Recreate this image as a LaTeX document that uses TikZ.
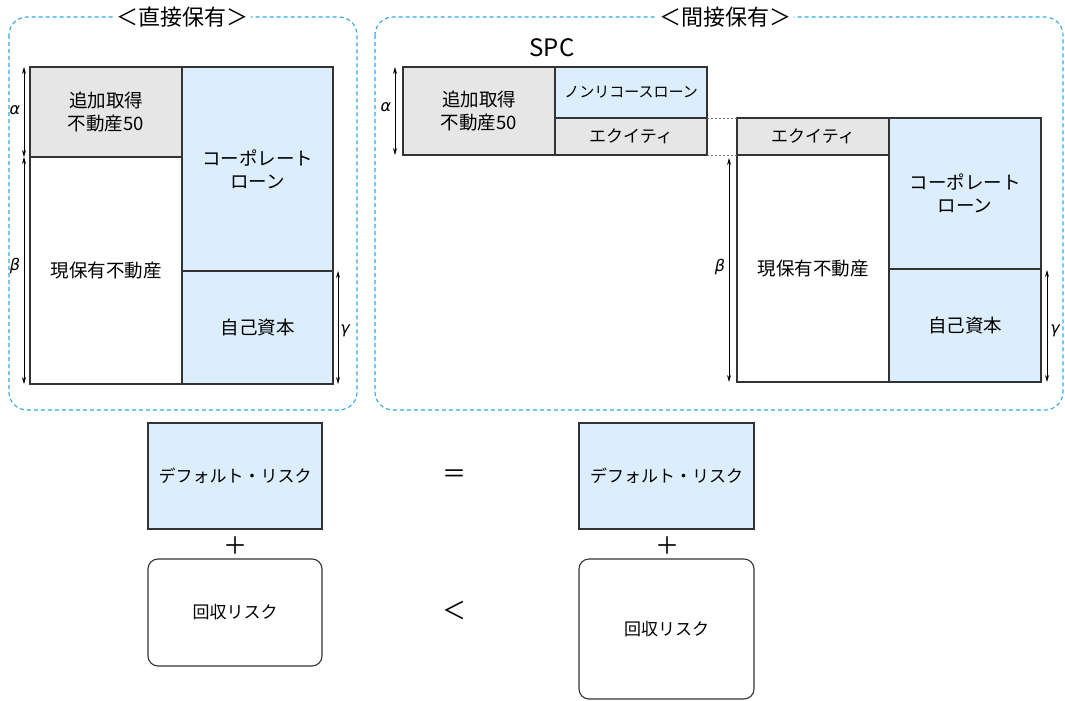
\documentclass[tikz,border=0pt]{standalone}
\usepackage{fontspec}
\setmainfont{Noto Sans CJK JP}
\newfontfamily\jp{Noto Sans CJK JP}
\newfontfamily\grk{DejaVu Sans}
\usetikzlibrary{arrows.meta}
\definecolor{bluefill}{HTML}{DCEDFB}
\definecolor{grayfill}{HTML}{E6E6E6}
\definecolor{linecol}{HTML}{333333}
\definecolor{framecol}{HTML}{2EA8E0}
\definecolor{dotcol}{HTML}{707070}
\tikzset{
  cell/.style={draw=linecol, line width=1.1pt, inner sep=0pt, outer sep=0pt, align=center, anchor=north west,
    font=\jp\fontsize{18.5}{23}\selectfont},
  bluecell/.style={cell, fill=bluefill},
  graycell/.style={cell, fill=grayfill},
  whitecell/.style={cell, fill=white},
  roundcell/.style={cell, fill=white, rounded corners=10pt},
  smalltext/.style={font=\jp\fontsize{15}{19}\selectfont},
  midtext/.style={font=\jp\fontsize{17}{21}\selectfont},
  frame/.style={draw=framecol, line width=1.1pt, dash pattern=on 4pt off 3pt, rounded corners=18pt},
  titletext/.style={fill=white, inner sep=3pt, font=\jp\fontsize{22}{26}\selectfont},
  dim/.style={draw=black, line width=0.7pt, {Stealth[length=7pt,width=4pt]}-{Stealth[length=7pt,width=4pt]}},
  greek/.style={font=\grk\itshape\fontsize{16}{20}\selectfont, inner sep=0pt},
  opsym/.style={font=\jp\fontsize{24}{28}\selectfont, inner sep=0pt},
  dotline/.style={draw=dotcol, line width=1pt, dash pattern=on 2pt off 2pt},
}
\begin{document}
\begin{tikzpicture}[x=1pt,y=-1pt]
\useasboundingbox (0,0) rectangle (1065,701);
% frames
\draw[frame] (9,17) rectangle (357,410);
\draw[frame] (375,17) rectangle (1063,410);
\node[titletext] (t1) at (182,17) {＜直接保有＞};
\node[titletext] (t2) at (725,17) {＜間接保有＞};
% left panel
\node[graycell, minimum width=152pt, minimum height=90pt] (L1) at (30,67) {追加取得\\不動産50};
\node[whitecell, minimum width=152pt, minimum height=227pt] (L2) at (30,157) {現保有不動産};
\node[bluecell, minimum width=151pt, minimum height=204pt] (L3) at (182,67) {コーポレート\\ローン};
\node[bluecell, minimum width=151pt, minimum height=113pt] (L4) at (182,271) {自己資本};
\coordinate (la1) at (24,67);
\coordinate (la2) at (24,157);
\coordinate (la3) at (24,384);
\coordinate (lg1) at (338,271);
\coordinate (lg2) at (338,384);
\draw[dim] (la1) -- (la2);
\draw[dim] (la2) -- (la3);
\draw[dim] (lg1) -- (lg2);
\node[greek] (lal) at (15,110) {α};
\node[greek] (lbe) at (15,266) {β};
\node[greek] (lga) at (345,331) {γ};
% SPC
\node[font=\jp\fontsize{24}{28}\selectfont, inner sep=0pt] (spc) at (552,48) {SPC};
\node[graycell, minimum width=152pt, minimum height=88pt] (S1) at (403,67) {追加取得\\不動産50};
\node[bluecell, smalltext, minimum width=152pt, minimum height=51pt] (S2) at (555,67) {ノンリコースローン};
\node[graycell, midtext, minimum width=152pt, minimum height=37pt] (S3) at (555,118) {エクイティ};
% right company
\node[graycell, midtext, minimum width=152pt, minimum height=37pt] (R1) at (737,118) {エクイティ};
\node[whitecell, minimum width=152pt, minimum height=227pt] (R2) at (737,155) {現保有不動産};
\node[bluecell, minimum width=152pt, minimum height=151pt] (R3) at (889,118) {コーポレート\\ローン};
\node[bluecell, minimum width=152pt, minimum height=113pt] (R4) at (889,269) {自己資本};
\draw[dotline] (S3.north east) -- (R1.north west);
\draw[dotline] (S3.south east) -- (R1.south west);
\coordinate (ra1) at (395,67);
\coordinate (ra2) at (395,155);
\coordinate (rb1) at (729,158);
\coordinate (rb2) at (729,382);
\coordinate (rg1) at (1047,270);
\coordinate (rg2) at (1047,382);
\draw[dim] (ra1) -- (ra2);
\draw[dim] (rb1) -- (rb2);
\draw[dim] (rg1) -- (rg2);
\node[greek] (ral) at (386,107) {α};
\node[greek] (rbe) at (720,267) {β};
\node[greek] (rga) at (1055,331) {γ};
% bottom
\node[bluecell, midtext, minimum width=174pt, minimum height=106pt] (D1) at (148,423) {デフォルト・リスク};
\node[roundcell, midtext, minimum width=174pt, minimum height=107pt] (K1) at (148,559) {回収リスク};
\node[bluecell, midtext, minimum width=175pt, minimum height=106pt] (D2) at (579,423) {デフォルト・リスク};
\node[roundcell, midtext, minimum width=175pt, minimum height=140pt] (K2) at (579,559) {回収リスク};
\node[opsym] (p1) at (235,546) {＋};
\node[opsym] (p2) at (667,546) {＋};
\node[opsym] (eq) at (454,476) {＝};
\node[opsym] (lt) at (454,610) {＜};
\end{tikzpicture}
\end{document}
